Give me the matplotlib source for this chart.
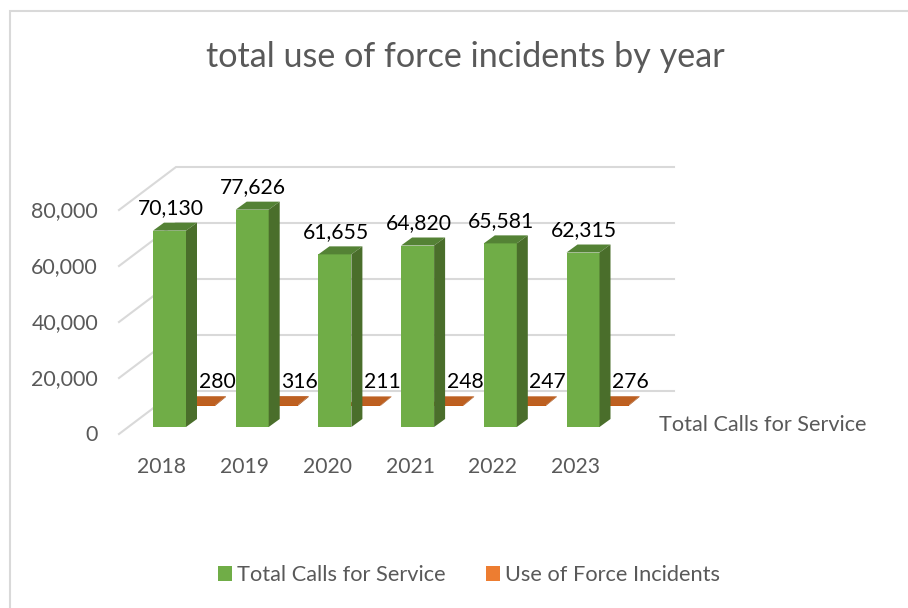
import matplotlib
matplotlib.use("Agg")
import matplotlib.pyplot as plt
from matplotlib.patches import Patch, Polygon, Rectangle

plt.rcParams['font.family'] = ['Lato', 'DejaVu Sans']

years = ['2018', '2019', '2020', '2021', '2022', '2023']
total_calls = [70130, 77626, 61655, 64820, 65581, 62315]
force_incidents = [280, 316, 211, 248, 247, 276]
y_ticks = [0, 20000, 40000, 60000, 80000]

GREY = '#595959'
GRID = '#D9D9D9'

# scales: one category step = 82.7 px, 1 px = 1/0.0028 units
PX_X = 1 / 82.7
PX_Y = 1 / 0.0028
BAR_W = 33 * PX_X


def bar3d(ax, x, base, value, dx, dy, front, top, side, z):
    # front face, top face and right side of a pseudo 3d column
    left = x - BAR_W / 2
    right = x + BAR_W / 2
    h = base + value
    ax.add_patch(Rectangle((left, base), BAR_W, value, fc=front, ec='none', zorder=z))
    ax.add_patch(Polygon([(left, h), (right, h), (right + dx, h + dy), (left + dx, h + dy)],
                         fc=top, ec='none', zorder=z))
    ax.add_patch(Polygon([(right, base), (right + dx, base + dy), (right + dx, h + dy), (right, h)],
                         fc=side, ec='none', zorder=z))


fig = plt.figure(figsize=(9.08, 6.08), dpi=100)
ax = fig.add_axes([0, 0, 1, 1])
ax.set_xlim(-169.5 * PX_X, (908 - 169.5) * PX_X)
ax.set_ylim(-181 * PX_Y, 427 * PX_Y)
ax.axis('off')

# chart frame, only top and left edges show in the crop
ax.plot([-169.5 * PX_X + 9.5 * PX_X, -169.5 * PX_X + 9.5 * PX_X, 738.5 * PX_X],
        [-181 * PX_Y, 416.5 * PX_Y, 416.5 * PX_Y], color=GRID, lw=1.5, zorder=1, solid_joinstyle='miter')

# back wall + side wall grid lines
back_y = 36 * PX_Y
front_y = -7 * PX_Y
for t in y_ticks:
    ax.plot([-50.5 * PX_X, 6.5 * PX_X, 504.5 * PX_X], [t + front_y, t + back_y, t + back_y],
            color=GRID, lw=1.5, zorder=2, solid_joinstyle='miter')
    ax.text(-71.5 * PX_X, t - 8 * PX_Y, f'{t:,}', ha='right', va='center', fontsize=15.4, color=GREY, zorder=5)

for i, year in enumerate(years):
    # orange row sits behind the green one
    bar3d(ax, i + 29 * PX_X, 21 * PX_Y, force_incidents[i], 11 * PX_X, 9 * PX_Y,
          '#C55A11', '#BD6021', '#A34E14', 3)
    bar3d(ax, i, 0, total_calls[i], 11 * PX_X, 8 * PX_Y, '#70AD47', '#548235', '#4A6E2B', 4)
    ax.text(i + 1 * PX_X, total_calls[i] + 22.5 * PX_Y, f'{total_calls[i]:,}', ha='center', va='center',
            fontsize=15.2, color='black', zorder=6)
    ax.text(i + 47.5 * PX_X, 45 * PX_Y, f'{force_incidents[i]}', ha='center', va='center',
            fontsize=15.2, color='black', zorder=6)
    ax.text(i - 7.5 * PX_X, -40 * PX_Y, year, ha='center', va='center', fontsize=15.2, color=GREY, zorder=5)

ax.text(489.5 * PX_X, 2 * PX_Y, 'Total Calls for Service', ha='left', va='center', fontsize=15.6, color=GREY)
ax.text(295.5 * PX_X, 370 * PX_Y, 'total use of force incidents by year', ha='center', va='center',
        fontsize=24.6, color=GREY)

handles = [Patch(fc='#70AD47', label='Total Calls for Service'),
           Patch(fc='#ED7D31', label='Use of Force Incidents')]
fig.legend(handles=handles, loc='center', bbox_to_anchor=(469 / 908, 1 - 575 / 608), ncol=2, frameon=False,
           fontsize=15.7, labelcolor=GREY, handlelength=0.64, handleheight=0.64, handletextpad=0.23,
           columnspacing=1.83)

fig.savefig('out.png', dpi=100)
